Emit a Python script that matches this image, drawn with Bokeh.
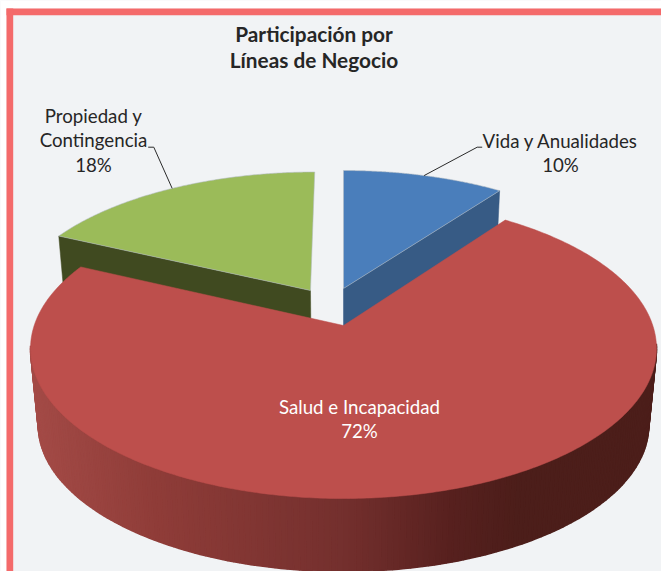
import numpy as np
from bokeh.plotting import figure
from bokeh.models import Range1d
from bokeh.core.properties import value
from bokeh.embed import file_html
from bokeh.resources import INLINE

# ---- data
categories = ["Vida y Anualidades", "Salud e Incapacidad", "Propiedad y Contingencia"]
shares = [10, 72, 18]
title_lines = ["Participación por", "Líneas de Negocio"]

# ---- style / layout
BG = "#f1f3f5"; BORDER = "#f46a6a"
TOP = {"Vida y Anualidades": "#4a7ebb", "Salud e Incapacidad": "#bd4f4c", "Propiedad y Contingencia": "#9bbb59"}
SIDE = {"Vida y Anualidades": "#375b85", "Propiedad y Contingencia": "#404a20"}
EXPLODE = {"Vida y Anualidades": (0.0, 0.2627), "Salud e Incapacidad": (0.0, 0.0), "Propiedad y Contingencia": (-0.1108, 0.248)}
CX, CY = 343.0, 325.0      # pie centre on the page
AX, BY, K = 309.3, 146.5, 0.1533  # projection of the pie plane
SCALE, DROP = 0.975, 77.3  # lower face of the extrusion
FONT = "Lato"

def project(u, v):
    d = 1 + K * v
    return CX + AX * u / d, CY - BY * v / d

def lower(x, y):
    return CX + SCALE * (x - CX), CY + DROP + SCALE * (y - CY)

def slice_outline(name, t0, t1, n=160):
    cu, cv = EXPLODE[name]
    t = np.linspace(t0, t1, n)
    u = np.r_[cu, cu + np.sin(t)]
    v = np.r_[cv, cv + np.cos(t)]
    return project(u, v)

# angular extents, clockwise from 12 o'clock
edges = 2 * np.pi * np.cumsum([0] + shares) / sum(shares)
span = {c: (edges[i], edges[i + 1]) for i, c in enumerate(categories)}

W, H = 661, 571
p = figure(width=W, height=H, x_range=Range1d(0, W), y_range=Range1d(H, 0),
           x_axis_type=None, y_axis_type=None, toolbar_location=None,
           output_backend="svg", min_border=0, outline_line_color=None,
           background_fill_color=BG, border_fill_color=BG)
p.grid.visible = False

# white surround, then the frame's top and left bars
p.quad(left=[0, 0], right=[W, 6], top=[0, 0], bottom=[8, H], fill_color="#ffffff", line_color=None)
p.quad(left=[6, 6], right=[W, 12.7], top=[8, 8], bottom=[14.7, H],
       fill_color=BORDER, line_color=None)

# cut faces of the two detached slices
for name, edge in (("Vida y Anualidades", 1), ("Propiedad y Contingencia", 0)):
    cu, cv = EXPLODE[name]
    t = span[name][edge]
    ax, ay = project(np.array([cu]), np.array([cv]))
    rx, ry = project(np.array([cu + np.sin(t)]), np.array([cv + np.cos(t)]))
    bax, bay = lower(ax, ay); brx, bry = lower(rx, ry)
    p.patch([ax[0], rx[0], brx[0], bax[0]], [ay[0], ry[0], bry[0], bay[0]],
            fill_color=SIDE[name], line_color=SIDE[name], line_width=0.5)

# tops of the two detached slices
for name in ("Vida y Anualidades", "Propiedad y Contingencia"):
    x, y = slice_outline(name, *span[name])
    p.patch(x, y, fill_color=TOP[name], line_color="#b4bcc4", line_width=0.7, line_alpha=0.8)

# rim of the large slice (front part only), shaded across its width
name = "Salud e Incapacidad"
t0, t1 = span[name]
th = np.linspace(t0, t1, 260)
th = th[np.cos(th) < -0.12]
tx, ty = project(np.sin(th), np.cos(th))
bx, by = lower(tx, ty)
stop_x = [30, 150, 343, 450, 520, 660]
stop_c = np.array([[164, 75, 71], [144, 61, 57], [116, 48, 46], [88, 33, 31], [76, 30, 26], [76, 30, 26]], float)
xs, ys, cs = [], [], []
for i in range(len(th) - 1):
    xs.append([tx[i], tx[i + 1], bx[i + 1], bx[i]])
    ys.append([ty[i], ty[i + 1], by[i + 1], by[i]])
    m = 0.5 * (tx[i] + tx[i + 1])
    c = [int(np.interp(m, stop_x, stop_c[:, k])) for k in range(3)]
    cs.append("#%02x%02x%02x" % tuple(c))
p.patches(xs, ys, fill_color=cs, line_color=cs, line_width=1.6)

x, y = slice_outline(name, t0, t1, 400)
p.patch(x, y, fill_color=TOP[name], line_color=TOP[name], line_width=0.5)

# leaders: from the rim at each slice's bisector, via an elbow, to its label
for name, elbow, end in (("Vida y Anualidades", (476.7, 146.7), 481.7),
                         ("Propiedad y Contingencia", (153.3, 146.7), 147.7)):
    cu, cv = EXPLODE[name]
    t = 0.5 * sum(span[name])
    sx, sy = project(np.array([cu + np.sin(t)]), np.array([cv + np.cos(t)]))
    p.line([sx[0], elbow[0], end], [sy[0], elbow[1], elbow[1]], line_color="#2a2a2a", line_width=1)

def txt(xc, yc, s, color="#262626", size="18.7px", style="normal"):
    p.text([xc], [yc], text=[s], text_align="center", text_baseline="middle",
           text_color=color, text_font=value(FONT), text_font_size=size, text_font_style=style)

txt(313.5, 33, title_lines[0], size="20.8px", style="bold")
txt(313.5, 59, title_lines[1], size="20.8px", style="bold")

pct = {c: f"{s}%" for c, s in zip(categories, shares)}
txt(93, 115, "Propiedad y")
txt(93, 139, "Contingencia")
txt(93, 164, pct["Propiedad y Contingencia"])
txt(560, 140, "Vida y Anualidades")
txt(560, 164, pct["Vida y Anualidades"])
txt(359, 406, "Salud e Incapacidad", color="#ffffff")
txt(359, 430, pct["Salud e Incapacidad"], color="#ffffff")

open("out.html", "w").write(file_html(p, INLINE))
